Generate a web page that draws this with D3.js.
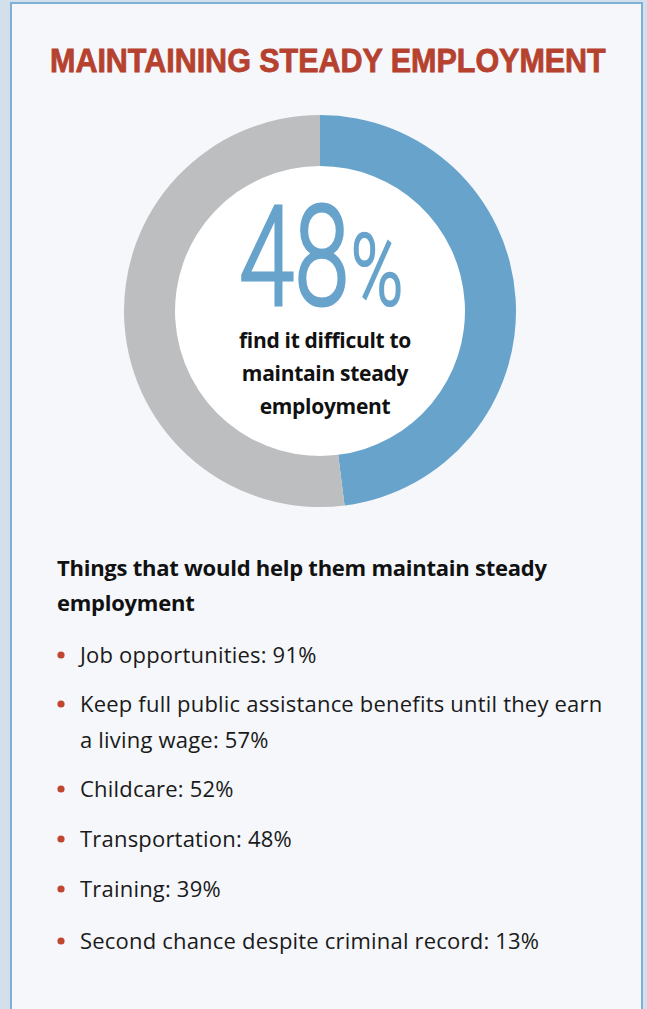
<!DOCTYPE html>
<html>
<head>
<meta charset="utf-8">
<script src="https://cdn.jsdelivr.net/npm/d3@7"></script>
<style>
  html, body { margin: 0; padding: 0; background: #d3e0ec; }
  svg { display: block; }
</style>
</head>
<body>
<svg id="chart" width="647" height="1009"></svg>
<script>
// Share of respondents who find it difficult to keep steady employment
const shareLabels = ["Difficult", "Not difficult"];
const shareValues = [48, 52];
const shareColors = ["#67a3cb", "#bdbec0"];

// Supports that would help them keep a job
const helpLabels = [
  "Job opportunities",
  "Keep full public assistance benefits until they earn a living wage",
  "Childcare",
  "Transportation",
  "Training",
  "Second chance despite criminal record"
];
const helpValues = [91, 57, 52, 48, 39, 13];

const W = 647, H = 1009;
const svg = d3.select("#chart");
const sans = "'Open Sans', 'Noto Sans', 'Liberation Sans', sans-serif";

// Page background and card
svg.append("rect").attr("width", W).attr("height", H).attr("fill", "#d3e0ec");
svg.append("rect")
  .attr("x", 11).attr("y", 3).attr("width", 631).attr("height", H + 10)
  .attr("fill", "#f5f7fb").attr("stroke", "#7fb0d8").attr("stroke-width", 2);

// Title, condensed horizontally so it spans the card width
const titleText = "MAINTAINING STEADY EMPLOYMENT";
const titleG = svg.append("g");
const title = titleG.append("text")
  .attr("x", 0).attr("y", 0)
  .attr("font-family", "'Liberation Sans', Arial, sans-serif")
  .attr("font-weight", 700).attr("font-size", 33)
  .attr("fill", "#b5412e")
  .attr("stroke", "#b5412e").attr("stroke-width", 0.8)
  .text(titleText);
const natural = title.node().getComputedTextLength();
titleG.attr("transform", `translate(50,72) scale(${556 / natural},1)`);

// Donut
const cx = 320, cy = 311;
const pie = d3.pie().sort(null).value(d => d);
const arc = d3.arc().innerRadius(145).outerRadius(196);
const g = svg.append("g").attr("transform", `translate(${cx},${cy})`);
g.append("circle").attr("r", 145).attr("fill", "#ffffff");
g.selectAll("path.slice")
  .data(pie(shareValues))
  .join("path")
  .attr("class", "slice")
  .attr("d", arc)
  .attr("fill", (d, i) => shareColors[i]);

// Big percentage: number with a smaller percent sign, condensed to fit the ring
const bigG = g.append("g");
const big = bigG.append("text")
  .attr("x", 0).attr("y", 0)
  .attr("font-family", "Roboto, 'Open Sans', sans-serif")
  .attr("font-weight", 300)
  .attr("fill", "#67a3cb")
  .attr("stroke", "#67a3cb");
big.append("tspan").attr("font-size", 140).attr("stroke-width", 3).text(shareValues[0]);
big.append("tspan").attr("font-size", 100).attr("stroke-width", 2.2).attr("dx", 2).text("%");
const bigW = big.node().getComputedTextLength();
bigG.attr("transform", `translate(-81,-6) scale(${163 / bigW},1)`);

// Caption inside the ring
const caption = ["find it difficult to", "maintain steady", "employment"];
g.selectAll("text.caption")
  .data(caption)
  .join("text")
  .attr("class", "caption")
  .attr("x", 5)
  .attr("y", (d, i) => 37 + i * 33)
  .attr("text-anchor", "middle")
  .attr("font-family", sans)
  .attr("font-weight", 700)
  .attr("font-size", 21)
  .attr("letter-spacing", -0.3)
  .attr("fill", "#111")
  .text(d => d);

// Subheading
const sub = ["Things that would help them maintain steady", "employment"];
svg.selectAll("text.sub")
  .data(sub)
  .join("text")
  .attr("class", "sub")
  .attr("x", 57)
  .attr("y", (d, i) => 576 + i * 35)
  .attr("font-family", sans)
  .attr("font-weight", 700)
  .attr("font-size", 22)
  .attr("letter-spacing", -0.25)
  .attr("fill", "#111")
  .text(d => d);

// Bullet list
const lineY = [655, 704, 789, 839, 889, 941];
const items = helpLabels.map((l, i) => {
  const lines = i === 1
    ? ["Keep full public assistance benefits until they earn", `a living wage: ${helpValues[i]}%`]
    : [`${l}: ${helpValues[i]}%`];
  return { lines, y: lineY[i] };
});

const li = svg.selectAll("g.item").data(items).join("g").attr("class", "item");
li.append("circle")
  .attr("cx", 61).attr("cy", d => d.y)
  .attr("r", 3.6).attr("fill", "#c0462f");
li.each(function(d) {
  d3.select(this).selectAll("text")
    .data(d.lines)
    .join("text")
    .attr("x", 80)
    .attr("y", (t, j) => d.y + 8 + j * 36)
    .attr("font-family", sans)
    .attr("font-size", 22)
    .attr("letter-spacing", 0.2)
    .attr("fill", "#1a1a1a")
    .text(t => t);
});
</script>
</body>
</html>
